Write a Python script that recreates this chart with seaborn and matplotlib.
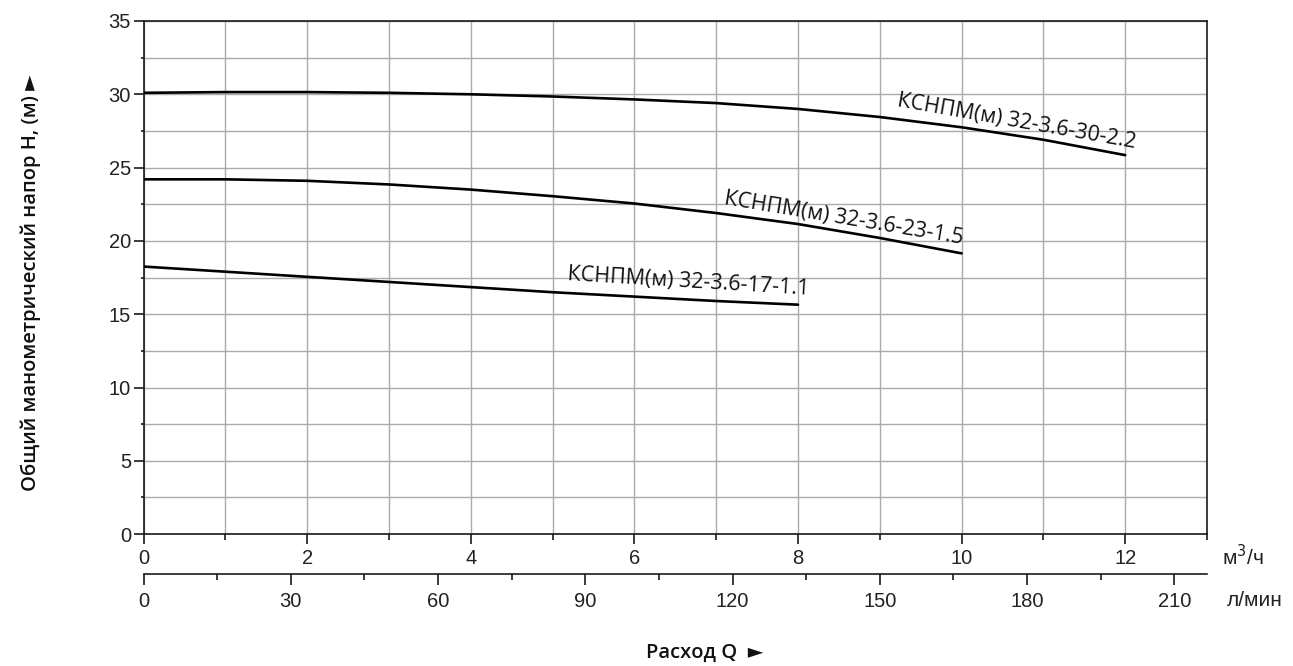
import numpy as np
import pandas as pd
import matplotlib
matplotlib.use("Agg")
import matplotlib.pyplot as plt
from matplotlib.ticker import MultipleLocator, FixedLocator
import seaborn as sns

# pump curves (Q in m3/h, H in m)
q_30 = [0, 1, 2, 3, 4, 5, 6, 7, 8, 9, 10, 11, 12]
h_30 = [30.1, 30.15, 30.15, 30.1, 30.0, 29.85, 29.65, 29.4, 29.0, 28.45, 27.75, 26.9, 25.85]

q_23 = [0, 1, 2, 3, 4, 5, 6, 7, 8, 9, 10]
h_23 = [24.2, 24.2, 24.1, 23.85, 23.5, 23.05, 22.55, 21.9, 21.15, 20.2, 19.15]

q_17 = [0, 1, 2, 3, 4, 5, 6, 7, 8]
h_17 = [18.25, 17.9, 17.55, 17.2, 16.85, 16.5, 16.2, 15.9, 15.65]

models = ["КСНПМ(м) 32-3.6-30-2.2", "КСНПМ(м) 32-3.6-23-1.5", "КСНПМ(м) 32-3.6-17-1.1"]
lpm_ticks = [0, 30, 60, 90, 120, 150, 180, 210]
lpm_minor = [15, 45, 75, 105, 135, 165, 195]

df = pd.concat([
    pd.DataFrame({"q": q_30, "h": h_30, "model": models[0]}),
    pd.DataFrame({"q": q_23, "h": h_23, "model": models[1]}),
    pd.DataFrame({"q": q_17, "h": h_17, "model": models[2]}),
])

sns.set_style("white")
plt.rcParams["font.family"] = ["Liberation Sans", "DejaVu Sans"]

fig = plt.figure(figsize=(12.93, 6.66), dpi=100)
ax = fig.add_axes([0.111, 0.198, 0.8225, 0.7705])

for m in models:
    sns.lineplot(data=df[df["model"] == m], x="q", y="h", color="black",
                 linewidth=1.9, ax=ax, zorder=3)

ax.set_xlim(0, 13)
ax.set_ylim(0, 35)
ax.xaxis.set_major_locator(MultipleLocator(2))
ax.xaxis.set_minor_locator(MultipleLocator(1))
ax.yaxis.set_major_locator(MultipleLocator(5))
ax.yaxis.set_minor_locator(MultipleLocator(2.5))
ax.grid(True, which="both", color="#ababab", linewidth=1.0, zorder=0)
ax.set_axisbelow(True)

for s in ax.spines.values():
    s.set_visible(True)
    s.set_color("#1a1a1a")
    s.set_linewidth(1.2)

ax.tick_params(axis="both", which="major", direction="out", length=7, width=1.2,
               color="#1a1a1a", labelsize=14.5, labelcolor="#222222", bottom=True, left=True)
ax.tick_params(axis="x", which="major", length=7, pad=4)
ax.tick_params(axis="x", which="minor", direction="out", length=4, width=1.2,
               color="#1a1a1a", bottom=True)
ax.tick_params(axis="y", which="major", pad=2)
ax.tick_params(axis="y", which="minor", direction="out", length=2.5, width=1.2,
               color="#1a1a1a", left=True)
ax.set_xlabel("")
ax.set_ylabel("")

# second scale in l/min
sec = ax.secondary_xaxis(-0.078, functions=(lambda x: x * 1000 / 60, lambda x: x * 60 / 1000))
sec.xaxis.set_major_locator(FixedLocator(lpm_ticks))
sec.xaxis.set_minor_locator(FixedLocator(lpm_minor))
sec.tick_params(which="major", direction="out", length=8, width=1.2, color="#1a1a1a",
                labelsize=14.5, labelcolor="#222222", pad=5)
sec.tick_params(which="minor", direction="out", length=4.5, width=1.2, color="#1a1a1a")
sec.spines["bottom"].set_color("#1a1a1a")
sec.spines["bottom"].set_linewidth(1.2)

# curve labels
lab_font = ["Open Sans", "DejaVu Sans"]
ax.text(9.2, 29.2, models[0], rotation=-10, rotation_mode="anchor", ha="left",
        va="baseline", fontsize=15.5, family=lab_font, color="#111111")
ax.text(7.09, 22.5, models[1], rotation=-9.5, rotation_mode="anchor", ha="left",
        va="baseline", fontsize=15.5, family=lab_font, color="#111111")
ax.text(5.18, 17.3, models[2], rotation=-3.5, rotation_mode="anchor", ha="left",
        va="baseline", fontsize=15.5, family=lab_font, color="#111111")

# units and axis titles
fig.text(1222 / 1293, 1 - 557 / 666, "м$^3$/ч", ha="left", va="center", fontsize=15, color="#222222")
fig.text(1227 / 1293, 1 - 600 / 666, "л/мин", ha="left", va="center", fontsize=15, color="#222222")
fig.text(705 / 1293, 1 - 653 / 666, "Расход Q  ►", ha="center", va="center", fontsize=14.5,
         fontweight="semibold", family=["Open Sans", "DejaVu Sans"], color="#111111")
fig.text(31 / 1293, 1 - 283 / 666, "Общий манометрический напор H, (м) ►", rotation=90,
         ha="center", va="center", fontsize=14.5, fontweight="semibold",
         family=["Open Sans", "DejaVu Sans"], color="#111111")

fig.savefig("out.png", dpi=100)
